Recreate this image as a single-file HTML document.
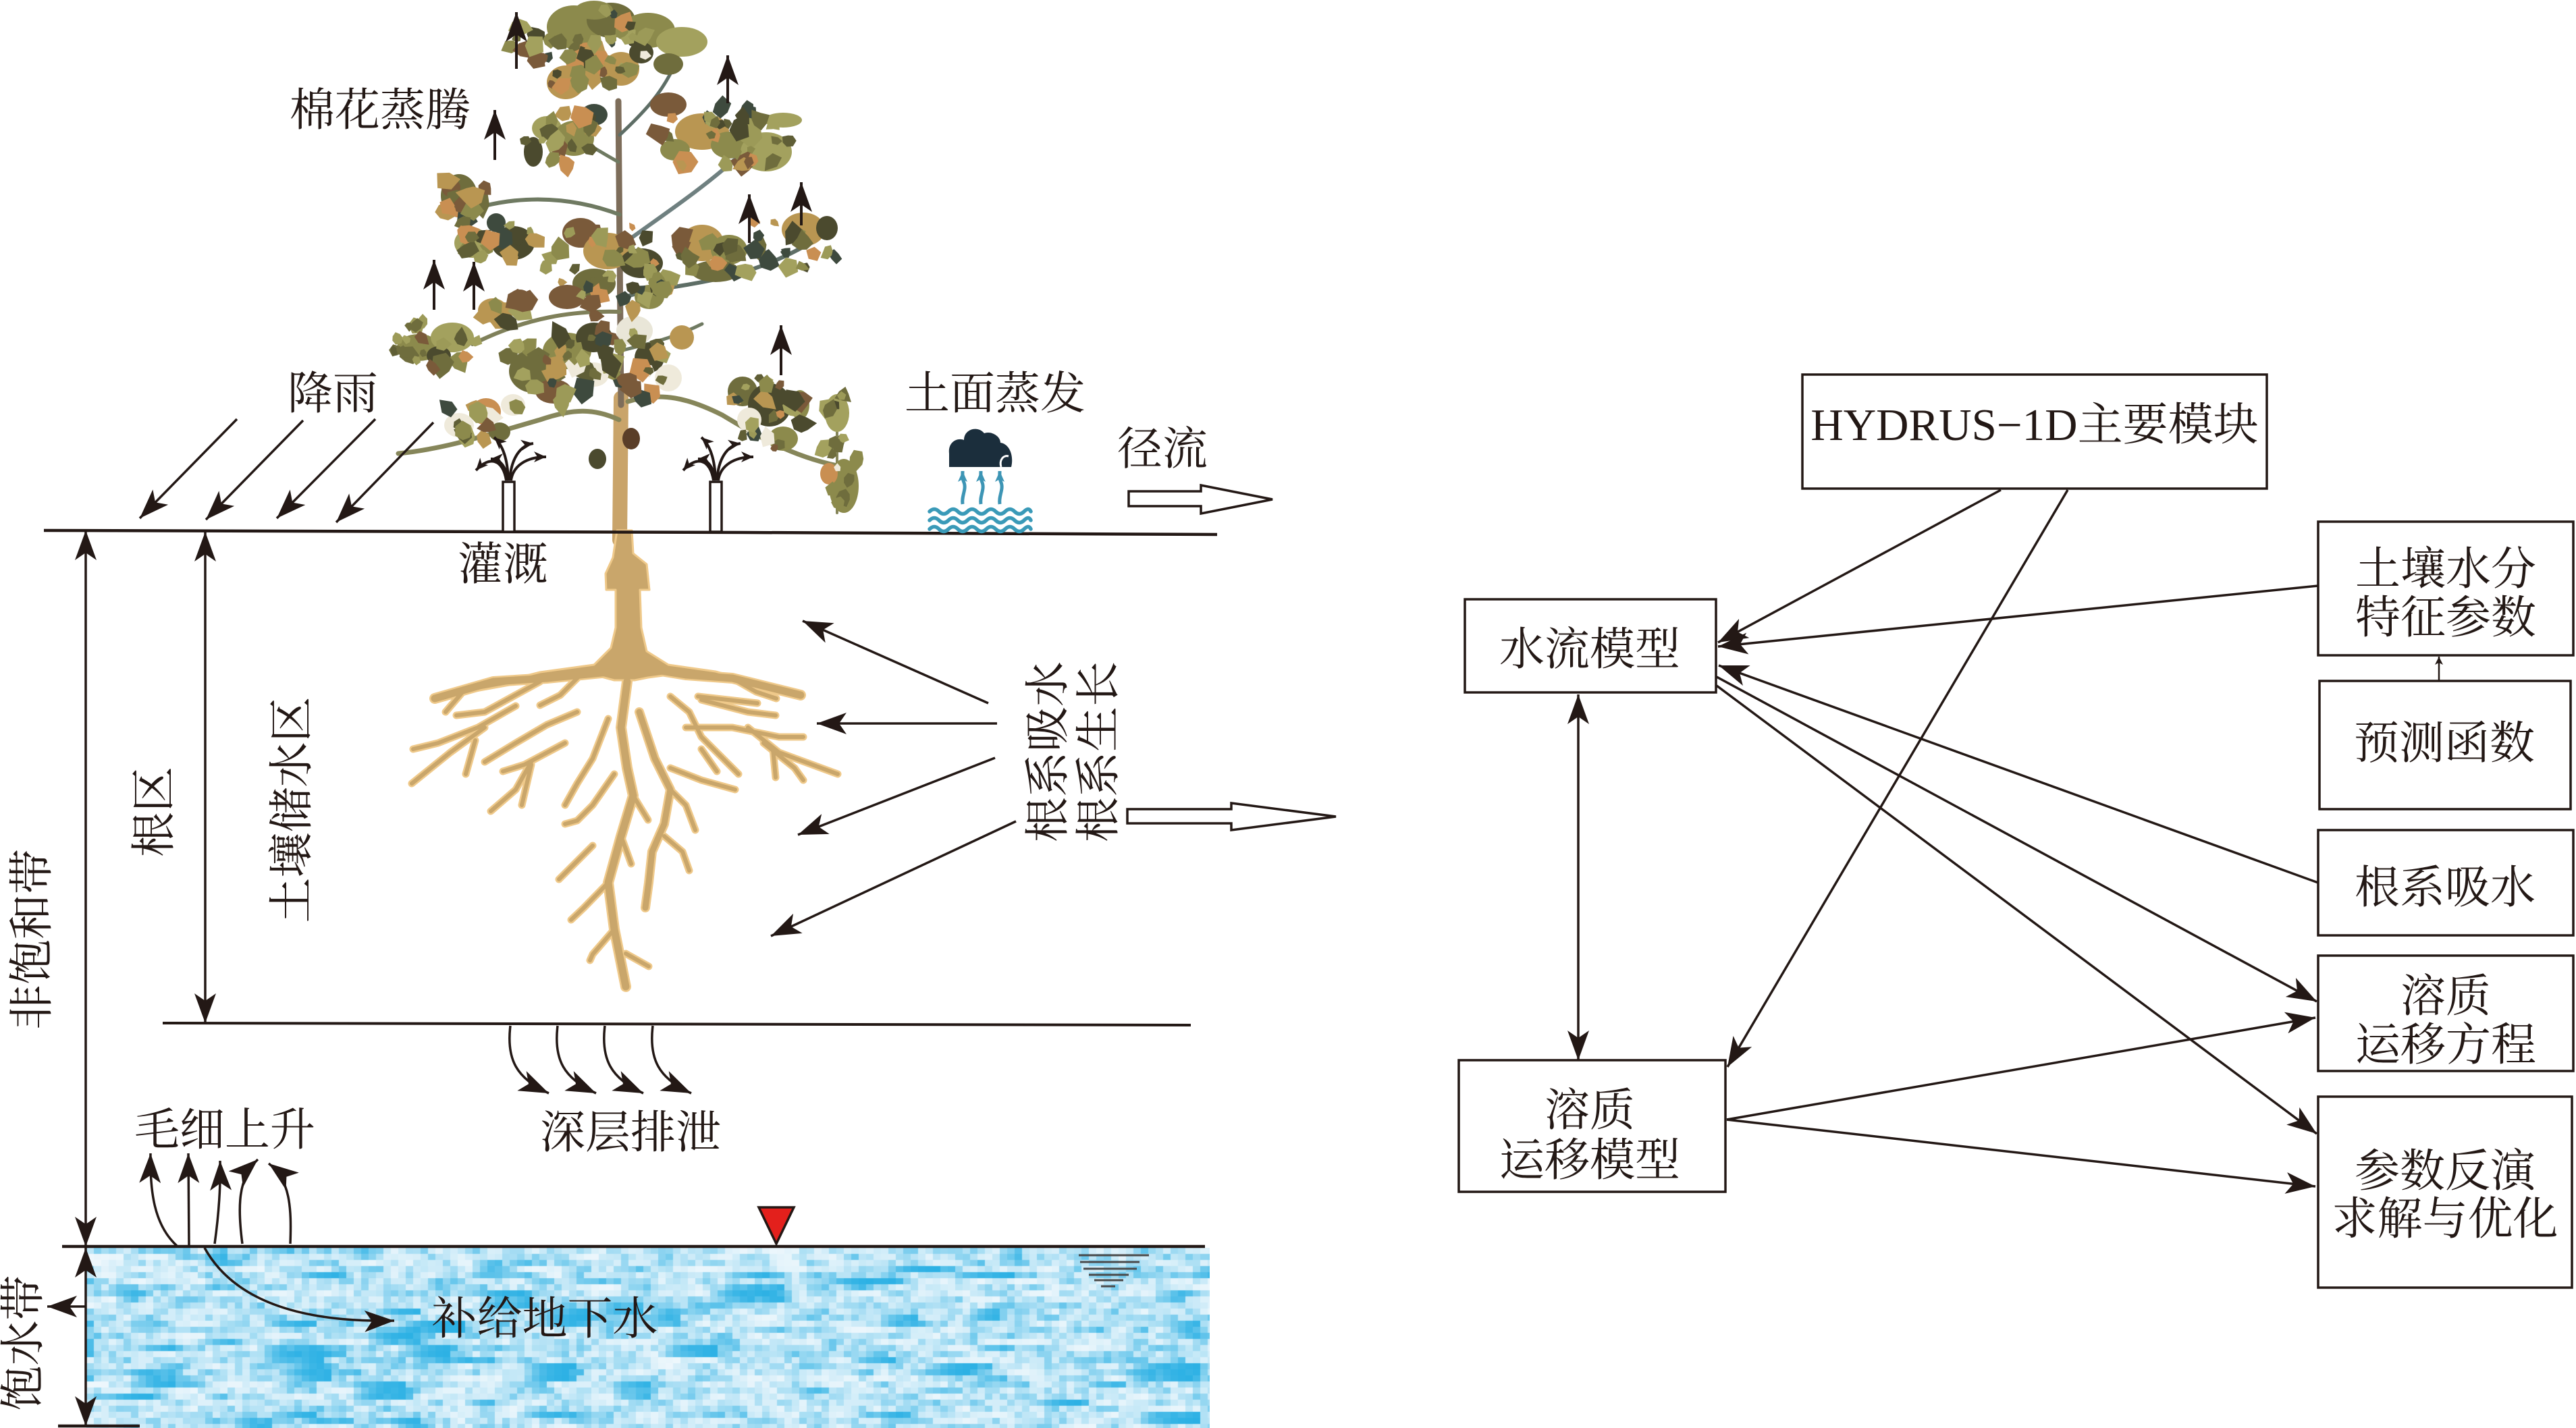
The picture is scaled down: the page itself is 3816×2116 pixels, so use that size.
<!DOCTYPE html>
<html><head><meta charset="utf-8">
<style>
html,body{margin:0;padding:0;background:#fff;}
#wrap{position:relative;width:3816px;height:2116px;overflow:hidden;background:#fff;}
#w{position:absolute;left:128px;top:1849px;background:#c6e6f6;}
svg{position:absolute;left:0;top:0;}
text{font-family:"Liberation Serif","Noto Serif CJK SC",serif;fill:#231815;font-size:67px;}
</style></head>
<body><div id="wrap">
<canvas id="w" width="1664" height="267"></canvas>
<svg width="3816" height="2116" viewBox="0 0 3816 2116" xmlns="http://www.w3.org/2000/svg">
<defs>
<marker id="a" viewBox="0 0 44 32" refX="44" refY="16" markerWidth="44" markerHeight="32" markerUnits="userSpaceOnUse" orient="auto-start-reverse"><path d="M0,0 L44,16 L0,32 L11,16 Z" fill="#231815"/></marker>
<marker id="s" viewBox="0 0 18 16" refX="18" refY="8" markerWidth="18" markerHeight="16" markerUnits="userSpaceOnUse" orient="auto"><path d="M0,0 L18,8 L0,16 L5,8 Z" fill="#231815"/></marker>
<marker id="t" viewBox="0 0 12 12" refX="12" refY="6" markerWidth="12" markerHeight="12" markerUnits="userSpaceOnUse" orient="auto"><path d="M0,0 L12,6 L0,12 L3,6 Z" fill="#231815"/></marker>
<marker id="bl" viewBox="0 0 16 14" refX="16" refY="7" markerWidth="16" markerHeight="14" markerUnits="userSpaceOnUse" orient="auto"><path d="M0,0 L16,7 L0,14 L4,7 Z" fill="#3d95b5"/></marker>
</defs>

<!-- ========== TREE ========== -->
<g id="tree">
<g fill="none" stroke-linecap="round">
<path d="M918,800 L920,590" stroke="#c9a46a" stroke-width="22"/>
<path d="M920,600 C918,450 918,300 916,150" stroke="#7d6d5a" stroke-width="9"/>
<path d="M917,622 C880,605 850,605 800,622 C720,645 660,665 590,672" stroke="#86865a" stroke-width="7"/>
<path d="M930,595 C980,580 1020,590 1070,615 C1120,645 1170,675 1240,690" stroke="#86865a" stroke-width="7"/>
<path d="M925,360 C980,320 1040,280 1090,235" stroke="#6f8080" stroke-width="6"/>
<path d="M918,318 C870,300 800,285 718,305" stroke="#6f7a62" stroke-width="6"/>
<path d="M925,440 C990,420 1090,425 1200,360" stroke="#5e6e66" stroke-width="6"/>
<path d="M918,462 C850,460 780,470 700,510" stroke="#7f805a" stroke-width="6"/>
<path d="M918,200 C950,170 980,140 1000,95" stroke="#5e6e66" stroke-width="5"/>
<path d="M916,240 C880,220 850,200 830,190" stroke="#6f7a62" stroke-width="5"/>
<path d="M918,520 C960,510 1000,500 1040,480" stroke="#6f7a62" stroke-width="5"/>
<path d="M1240,600 L1240,760" stroke="#86865a" stroke-width="4"/>
</g>
<g id="leaves">
<ellipse cx="850" cy="40" rx="40" ry="32" fill="#8c8a4c"/>
<ellipse cx="905" cy="30" rx="36" ry="26" fill="#6f6d3d"/>
<ellipse cx="960" cy="45" rx="40" ry="26" fill="#8c8a4c"/>
<ellipse cx="1010" cy="62" rx="38" ry="22" fill="#a3a15e"/>
<ellipse cx="870" cy="90" rx="32" ry="27" fill="#c98f52"/>
<ellipse cx="838" cy="122" rx="28" ry="25" fill="#b99652"/>
<ellipse cx="920" cy="102" rx="27" ry="25" fill="#b99652"/>
<ellipse cx="950" cy="78" rx="18" ry="16" fill="#4b4a2e"/>
<ellipse cx="990" cy="95" rx="22" ry="16" fill="#6f6d3d"/>
<ellipse cx="880" cy="15" rx="28" ry="14" fill="#8c8a4c"/>
<ellipse cx="810" cy="190" rx="22" ry="18" fill="#a3a15e"/>
<ellipse cx="850" cy="205" rx="30" ry="26" fill="#8c8a4c"/>
<ellipse cx="790" cy="225" rx="14" ry="22" fill="#4b4a2e"/>
<ellipse cx="880" cy="170" rx="20" ry="16" fill="#3e4a3e"/>
<ellipse cx="990" cy="155" rx="27" ry="18" fill="#7a5a3a"/>
<ellipse cx="1040" cy="195" rx="40" ry="27" fill="#b99652"/>
<ellipse cx="1080" cy="215" rx="27" ry="20" fill="#8c8a4c"/>
<ellipse cx="1135" cy="225" rx="38" ry="29" fill="#a3a15e"/>
<ellipse cx="1160" cy="178" rx="28" ry="11" fill="#a3a15e"/>
<ellipse cx="1000" cy="222" rx="22" ry="16" fill="#8c8a4c"/>
<ellipse cx="680" cy="290" rx="27" ry="32" fill="#6f6d3d"/>
<ellipse cx="668" cy="278" rx="14" ry="14" fill="#7a5a3a"/>
<ellipse cx="702" cy="305" rx="16" ry="16" fill="#4b4a2e"/>
<ellipse cx="700" cy="360" rx="27" ry="22" fill="#a3a15e"/>
<ellipse cx="760" cy="360" rx="32" ry="25" fill="#4b4a2e"/>
<ellipse cx="735" cy="330" rx="14" ry="14" fill="#3e4a3e"/>
<ellipse cx="860" cy="345" rx="27" ry="22" fill="#7a5a3a"/>
<ellipse cx="900" cy="372" rx="36" ry="27" fill="#b99652"/>
<ellipse cx="950" cy="390" rx="32" ry="22" fill="#4b4a2e"/>
<ellipse cx="880" cy="420" rx="32" ry="22" fill="#6f6d3d"/>
<ellipse cx="840" cy="440" rx="27" ry="18" fill="#7a5a3a"/>
<ellipse cx="962" cy="440" rx="22" ry="18" fill="#8c8a4c"/>
<ellipse cx="1040" cy="360" rx="32" ry="27" fill="#b99652"/>
<ellipse cx="1080" cy="370" rx="27" ry="22" fill="#8c8a4c"/>
<ellipse cx="1060" cy="402" rx="36" ry="16" fill="#6f6d3d"/>
<ellipse cx="1190" cy="340" rx="32" ry="25" fill="#b99652"/>
<ellipse cx="1225" cy="338" rx="16" ry="18" fill="#4b4a2e"/>
<ellipse cx="620" cy="515" rx="32" ry="20" fill="#8c8a4c"/>
<ellipse cx="670" cy="500" rx="32" ry="22" fill="#a3a15e"/>
<ellipse cx="650" cy="527" rx="18" ry="14" fill="#4b4a2e"/>
<ellipse cx="730" cy="460" rx="22" ry="18" fill="#b99652"/>
<ellipse cx="770" cy="445" rx="18" ry="16" fill="#7a5a3a"/>
<ellipse cx="790" cy="550" rx="36" ry="32" fill="#6f6d3d"/>
<ellipse cx="840" cy="520" rx="36" ry="27" fill="#8c8a4c"/>
<ellipse cx="880" cy="500" rx="27" ry="22" fill="#4b4a2e"/>
<ellipse cx="940" cy="490" rx="27" ry="22" fill="#e9e6d8"/>
<ellipse cx="962" cy="530" rx="22" ry="22" fill="#4b4a2e"/>
<ellipse cx="1010" cy="500" rx="18" ry="18" fill="#b99652"/>
<ellipse cx="820" cy="580" rx="27" ry="18" fill="#7a5a3a"/>
<ellipse cx="880" cy="555" rx="22" ry="18" fill="#efeadb"/>
<ellipse cx="990" cy="560" rx="20" ry="20" fill="#efeadb"/>
<ellipse cx="680" cy="630" rx="22" ry="18" fill="#efeadb"/>
<ellipse cx="720" cy="610" rx="22" ry="20" fill="#c98f52"/>
<ellipse cx="760" cy="600" rx="18" ry="16" fill="#efeadb"/>
<ellipse cx="740" cy="640" rx="16" ry="14" fill="#6f6d3d"/>
<ellipse cx="1100" cy="580" rx="22" ry="22" fill="#6f6d3d"/>
<ellipse cx="1140" cy="600" rx="32" ry="32" fill="#4b4a2e"/>
<ellipse cx="1110" cy="622" rx="18" ry="18" fill="#efeadb"/>
<ellipse cx="1160" cy="650" rx="22" ry="18" fill="#8c8a4c"/>
<ellipse cx="1185" cy="600" rx="14" ry="22" fill="#8c8a4c"/>
<ellipse cx="1240" cy="612" rx="18" ry="28" fill="#a3a15e"/>
<ellipse cx="1250" cy="720" rx="22" ry="40" fill="#8c8a4c"/>
<ellipse cx="1228" cy="702" rx="13" ry="16" fill="#c98f52"/>
<ellipse cx="935" cy="650" rx="13" ry="16" fill="#5a3e28"/>
<ellipse cx="885" cy="680" rx="13" ry="15" fill="#4b4a2e"/>
</g>
</g>

<!-- ========== ROOTS ========== -->
<g id="roots" fill="none" stroke-linecap="round" stroke-linejoin="round">
<g stroke="#efc98a">
<path d="M901,996 L810,1005 L731,1010 L644,1035" stroke-width="16"/>
<path d="M961,991 L1016,1000 L1085,1005 L1186,1030" stroke-width="16"/>
<path d="M929,1010 L920,1078 L929,1138 L938,1179 L920,1239 L901,1308 L910,1377 L927,1462" stroke-width="16"/>
<path d="M947,1055 L970,1124 L993,1170 L984,1221 L966,1262 L961,1308 L956,1345" stroke-width="14"/>
</g>
<g stroke="#efc98a" stroke-width="11">
<path d="M800,1010 L718,1055 L676,1060"/>
<path d="M764,1046 L708,1078 L649,1101 L612,1110"/>
<path d="M718,1078 L667,1115 L610,1161"/>
<path d="M704,1097 L690,1147"/>
<path d="M855,1055 L810,1074 L764,1101 L718,1129"/>
<path d="M837,1101 L777,1133 L745,1143"/>
<path d="M787,1129 L764,1170 L727,1202"/>
<path d="M787,1133 L773,1193"/>
<path d="M901,1065 L878,1124 L855,1161 L837,1193"/>
<path d="M910,1147 L878,1193 L855,1216 L837,1221"/>
<path d="M878,1253 L855,1276 L828,1303"/>
<path d="M901,1308 L865,1345 L846,1363"/>
<path d="M910,1377 L878,1414 L874,1423"/>
<path d="M927,1413 L961,1432"/>
<path d="M1039,1037 L1108,1055 L1149,1060"/>
<path d="M1016,1078 L1085,1078 L1154,1092 L1190,1092"/>
<path d="M1108,1078 L1154,1115 L1241,1147"/>
<path d="M1131,1101 L1177,1138 L1190,1156"/>
<path d="M1145,1110 L1149,1152"/>
<path d="M993,1032 L1021,1055 L1039,1092 L1094,1147"/>
<path d="M1039,1110 L1062,1143"/>
<path d="M993,1138 L1039,1156 L1089,1170"/>
<path d="M993,1170 L1016,1193 L1030,1230"/>
<path d="M984,1239 L1011,1262 L1021,1290"/>
<path d="M1034,1032 L1122,1042"/>
<path d="M731,1010 L690,1020 L660,1055"/>
<path d="M860,1000 L830,1030 L800,1045"/>
<path d="M1085,1005 L1120,1025 L1150,1035"/>
<path d="M938,1179 L960,1215"/>
<path d="M920,1239 L935,1280"/>
</g>
<path d="M914,786 L936,786 L938,820 L958,836 L962,874 L948,874 L950,930 L958,965 L990,985 L1060,995 L1186,1030 L1060,1005 L990,1000 L960,1004 L940,1008 L910,1008 L880,1000 L810,1005 L644,1035 L800,996 L880,985 L905,960 L912,930 L912,874 L898,874 L897,850 L908,826 Z" fill="#c9a66b" stroke="#efc98a" stroke-width="3"/>
<g stroke="#c9a66b">
<path d="M901,996 L810,1005 L731,1010 L644,1035" stroke-width="11"/>
<path d="M961,991 L1016,1000 L1085,1005 L1186,1030" stroke-width="11"/>
<path d="M929,1010 L920,1078 L929,1138 L938,1179 L920,1239 L901,1308 L910,1377 L927,1462" stroke-width="11"/>
<path d="M947,1055 L970,1124 L993,1170 L984,1221 L966,1262 L961,1308 L956,1345" stroke-width="9"/>
</g>
<g stroke="#c9a66b" stroke-width="6">
<path d="M800,1010 L718,1055 L676,1060"/>
<path d="M764,1046 L708,1078 L649,1101 L612,1110"/>
<path d="M718,1078 L667,1115 L610,1161"/>
<path d="M704,1097 L690,1147"/>
<path d="M855,1055 L810,1074 L764,1101 L718,1129"/>
<path d="M837,1101 L777,1133 L745,1143"/>
<path d="M787,1129 L764,1170 L727,1202"/>
<path d="M787,1133 L773,1193"/>
<path d="M901,1065 L878,1124 L855,1161 L837,1193"/>
<path d="M910,1147 L878,1193 L855,1216 L837,1221"/>
<path d="M878,1253 L855,1276 L828,1303"/>
<path d="M901,1308 L865,1345 L846,1363"/>
<path d="M910,1377 L878,1414 L874,1423"/>
<path d="M927,1413 L961,1432"/>
<path d="M1039,1037 L1108,1055 L1149,1060"/>
<path d="M1016,1078 L1085,1078 L1154,1092 L1190,1092"/>
<path d="M1108,1078 L1154,1115 L1241,1147"/>
<path d="M1131,1101 L1177,1138 L1190,1156"/>
<path d="M1145,1110 L1149,1152"/>
<path d="M993,1032 L1021,1055 L1039,1092 L1094,1147"/>
<path d="M1039,1110 L1062,1143"/>
<path d="M993,1138 L1039,1156 L1089,1170"/>
<path d="M993,1170 L1016,1193 L1030,1230"/>
<path d="M984,1239 L1011,1262 L1021,1290"/>
<path d="M1034,1032 L1122,1042"/>
<path d="M731,1010 L690,1020 L660,1055"/>
<path d="M860,1000 L830,1030 L800,1045"/>
<path d="M1085,1005 L1120,1025 L1150,1035"/>
<path d="M938,1179 L960,1215"/>
<path d="M920,1239 L935,1280"/>
</g>
</g>

<!-- ========== LEFT DIAGRAM LINES ========== -->
<g stroke="#231815" fill="none">
<polyline points="65,786 1100,789 1803,792" stroke-width="4.5"/>
<line x1="241" y1="1516" x2="1764" y2="1519" stroke-width="4"/>
<line x1="92" y1="1847" x2="1785" y2="1847" stroke-width="4.5"/>
<line x1="86" y1="2113" x2="207" y2="2113" stroke-width="4.5"/>
<line x1="127" y1="786" x2="127" y2="1847" stroke-width="3.5" marker-start="url(#a)" marker-end="url(#a)"/>
<line x1="127" y1="1849" x2="127" y2="2113" stroke-width="3.5" marker-start="url(#a)" marker-end="url(#a)"/>
<line x1="127" y1="1936" x2="70" y2="1936" stroke-width="3.5" marker-end="url(#a)"/>
<line x1="304" y1="788" x2="304" y2="1516" stroke-width="3.5" marker-start="url(#a)" marker-end="url(#a)"/>
<line x1="351" y1="621" x2="207" y2="768" stroke-width="3.5" marker-end="url(#a)"/>
<line x1="449" y1="623" x2="305" y2="770" stroke-width="3.5" marker-end="url(#a)"/>
<line x1="556" y1="621" x2="410" y2="768" stroke-width="3.5" marker-end="url(#a)"/>
<line x1="642" y1="626" x2="498" y2="774" stroke-width="3.5" marker-end="url(#a)"/>
<line x1="765" y1="102" x2="765" y2="18" stroke-width="4" marker-end="url(#a)"/>
<line x1="733" y1="237" x2="733" y2="163" stroke-width="4" marker-end="url(#a)"/>
<line x1="1078" y1="153" x2="1078" y2="82" stroke-width="4" marker-end="url(#a)"/>
<line x1="643" y1="459" x2="643" y2="385" stroke-width="4" marker-end="url(#a)"/>
<line x1="702" y1="459" x2="702" y2="388" stroke-width="4" marker-end="url(#a)"/>
<line x1="1110" y1="360" x2="1110" y2="288" stroke-width="4" marker-end="url(#a)"/>
<line x1="1187" y1="334" x2="1187" y2="270" stroke-width="4" marker-end="url(#a)"/>
<line x1="1157" y1="556" x2="1157" y2="482" stroke-width="4" marker-end="url(#a)"/>
<line x1="1464" y1="1042" x2="1189" y2="920" stroke-width="3.5" marker-end="url(#a)"/>
<line x1="1477" y1="1072" x2="1210" y2="1072" stroke-width="3.5" marker-end="url(#a)"/>
<line x1="1474" y1="1123" x2="1182" y2="1237" stroke-width="3.5" marker-end="url(#a)"/>
<line x1="1505" y1="1217" x2="1142" y2="1387" stroke-width="3.5" marker-end="url(#a)"/>
<path d="M756,1520 C750,1570 765,1598 813,1620" stroke-width="3.5" marker-end="url(#a)"/>
<path d="M826,1520 C820,1570 835,1598 883,1620" stroke-width="3.5" marker-end="url(#a)"/>
<path d="M896,1520 C890,1570 905,1598 953,1620" stroke-width="3.5" marker-end="url(#a)"/>
<path d="M967,1520 C961,1570 976,1598 1024,1620" stroke-width="3.5" marker-end="url(#a)"/>
<path d="M262,1846 C228,1815 222,1765 223,1709" stroke-width="3.5" marker-end="url(#a)"/>
<path d="M280,1846 L279,1709" stroke-width="3.5" marker-end="url(#a)"/>
<path d="M318,1843 C324,1800 327,1760 326,1720" stroke-width="3.5" marker-end="url(#a)"/>
<path d="M359,1843 C352,1790 352,1745 382,1718" stroke-width="3.5" marker-end="url(#a)"/>
<path d="M430,1843 C432,1790 430,1748 398,1724" stroke-width="3.5" marker-end="url(#a)"/>
<path d="M303,1849 C345,1925 440,1960 584,1957" stroke-width="3.5" marker-end="url(#a)"/>
</g>

<!-- sprinklers -->
<g stroke="#231815" fill="none" stroke-width="4">
<rect x="745" y="714" width="17" height="74" fill="#fff" stroke-width="3.5"/>
<path d="M750,712 C745,680 725,675 705,697" marker-end="url(#s)"/>
<path d="M752,712 C750,690 740,680 727,680" marker-end="url(#s)"/>
<path d="M753,712 C752,680 745,660 732,648" marker-end="url(#s)"/>
<path d="M755,712 C757,680 770,660 790,657" marker-end="url(#s)"/>
<path d="M757,712 C760,690 780,677 809,677" marker-end="url(#s)"/>
<rect x="1052" y="714" width="17" height="74" fill="#fff" stroke-width="3.5"/>
<path d="M1057,712 C1052,680 1032,675 1012,697" marker-end="url(#s)"/>
<path d="M1059,712 C1057,690 1047,680 1034,680" marker-end="url(#s)"/>
<path d="M1060,712 C1059,680 1052,660 1039,648" marker-end="url(#s)"/>
<path d="M1062,712 C1064,680 1077,660 1097,657" marker-end="url(#s)"/>
<path d="M1064,712 C1067,690 1087,677 1116,677" marker-end="url(#s)"/>
</g>

<!-- evaporation icon -->
<g>
<path d="M1406,692 L1406,672 C1404,655 1418,648 1428,652 C1428,636 1448,630 1458,642 C1468,638 1482,646 1482,656 C1496,658 1502,676 1498,692 Z" fill="#1b2e3c"/>
<path d="M1483,692 C1480,682 1486,674 1494,676" stroke="#fff" stroke-width="3" fill="none"/>
<g stroke="#3d95b5" stroke-width="5" fill="none">
<path d="M1426,747 C1424,735 1432,725 1428,715 C1425,708 1426,703 1426,698" marker-end="url(#bl)"/>
<path d="M1453,747 C1451,735 1459,725 1455,715 C1452,708 1453,703 1453,698" marker-end="url(#bl)"/>
<path d="M1481,747 C1479,735 1487,725 1483,715 C1480,708 1481,703 1481,698" marker-end="url(#bl)"/>
</g>
<g stroke="#3a9ab8" stroke-width="5.5" fill="none" stroke-linecap="round">
<path d="M1377,758 q7,-7 14,0 t14,0 t14,0 t14,0 t14,0 t14,0 t14,0 t14,0 t14,0 t14,0 t10,0"/>
<path d="M1377,771 q7,-7 14,0 t14,0 t14,0 t14,0 t14,0 t14,0 t14,0 t14,0 t14,0 t14,0 t10,0"/>
<path d="M1377,784 q7,-7 14,0 t14,0 t14,0 t14,0 t14,0 t14,0 t14,0 t14,0 t14,0 t14,0 t10,0"/>
</g>
</g>

<polygon points="1672,728 1779,728 1779,719 1885,740 1779,761 1779,750 1672,750" fill="#fff" stroke="#231815" stroke-width="3.5"/>
<polygon points="1670,1199 1824,1199 1824,1190 1979,1210 1824,1230 1824,1220 1670,1220" fill="#fff" stroke="#231815" stroke-width="3.5"/>

<polygon points="1124,1789 1176,1789 1150,1843" fill="#e3201c" stroke="#231815" stroke-width="3.5"/>
<g stroke="#4a4a4a" stroke-width="3">
<line x1="1598" y1="1860" x2="1702" y2="1860"/>
<line x1="1600" y1="1870" x2="1688" y2="1870"/>
<line x1="1605" y1="1880" x2="1684" y2="1880"/>
<line x1="1613" y1="1889" x2="1672" y2="1889"/>
<line x1="1621" y1="1897" x2="1664" y2="1897"/>
<line x1="1631" y1="1906" x2="1652" y2="1906"/>
</g>

<text x="563" y="186" text-anchor="middle">棉花蒸腾</text>
<text x="493" y="606" text-anchor="middle">降雨</text>
<text x="1474" y="606" text-anchor="middle">土面蒸发</text>
<text x="1722" y="688" text-anchor="middle">径流</text>
<text x="745" y="859" text-anchor="middle">灌溉</text>
<text x="333" y="1697" text-anchor="middle">毛细上升</text>
<text x="934" y="1701" text-anchor="middle">深层排泄</text>
<text x="807" y="1977" text-anchor="middle">补给地下水</text>
<text transform="translate(226,1203) rotate(-90)" text-anchor="middle" y="25">根区</text>
<text transform="translate(430,1200) rotate(-90)" text-anchor="middle" y="25">土壤储水区</text>
<text transform="translate(45,1392) rotate(-90)" text-anchor="middle" y="25">非饱和带</text>
<text transform="translate(32,1990) rotate(-90)" text-anchor="middle" y="25">饱水带</text>
<text transform="translate(1550,1114) rotate(-90)" text-anchor="middle" y="25">根系吸水</text>
<text transform="translate(1625,1114) rotate(-90)" text-anchor="middle" y="25">根系生长</text>

<!-- ========== RIGHT DIAGRAM ========== -->
<g stroke="#231815" stroke-width="3.5" fill="#fff">
<rect x="2670" y="555" width="688" height="169"/>
<rect x="2170" y="888" width="372" height="138"/>
<rect x="2161" y="1571" width="395" height="195"/>
<rect x="3434" y="773" width="378" height="198"/>
<rect x="3436" y="1009" width="372" height="190"/>
<rect x="3434" y="1230" width="378" height="156"/>
<rect x="3434" y="1416" width="378" height="171"/>
<rect x="3434" y="1625" width="376" height="283"/>
</g>
<g stroke="#231815" stroke-width="3.5" fill="none">
<line x1="2964" y1="726" x2="2545" y2="952" marker-end="url(#a)"/>
<line x1="3063" y1="726" x2="2559" y2="1581" marker-end="url(#a)"/>
<line x1="3434" y1="868" x2="2545" y2="958" marker-end="url(#a)"/>
<line x1="3434" y1="1308" x2="2546" y2="986" marker-end="url(#a)"/>
<line x1="2543" y1="1003" x2="3432" y2="1484" marker-end="url(#a)"/>
<line x1="2543" y1="1016" x2="3432" y2="1680" marker-end="url(#a)"/>
<line x1="2558" y1="1659" x2="3430" y2="1508" marker-end="url(#a)"/>
<line x1="2558" y1="1659" x2="3430" y2="1758" marker-end="url(#a)"/>
<line x1="2338" y1="1029" x2="2338" y2="1571" marker-start="url(#a)" marker-end="url(#a)"/>
<line x1="3613" y1="1008" x2="3613" y2="973" stroke-width="2.5" marker-end="url(#t)"/>
</g>
<text x="3014" y="652" text-anchor="middle" font-size="66">HYDRUS−1D主要模块</text>
<text x="2355" y="985" text-anchor="middle">水流模型</text>
<text x="2355" y="1668" text-anchor="middle">溶质</text>
<text x="2355" y="1742" text-anchor="middle">运移模型</text>
<text x="3623" y="866" text-anchor="middle">土壤水分</text>
<text x="3623" y="938" text-anchor="middle">特征参数</text>
<text x="3621" y="1124" text-anchor="middle">预测函数</text>
<text x="3622" y="1338" text-anchor="middle">根系吸水</text>
<text x="3623" y="1499" text-anchor="middle">溶质</text>
<text x="3623" y="1571" text-anchor="middle">运移方程</text>
<text x="3622" y="1758" text-anchor="middle">参数反演</text>
<text x="3622" y="1829" text-anchor="middle">求解与优化</text>
</svg>
</div>
<script>
(function(){
var c=document.getElementById('w');if(!c||!c.getContext)return;
var x=c.getContext('2d');var s=987654321;
function r(){s=(s*1103515245+12345)%2147483648;return s/2147483648;}
var cw=11,ch=9,W=c.width,H=c.height,nx=Math.ceil(W/cw),ny=Math.ceil(H/ch);
var g=[];for(var j=0;j<ny;j++){g[j]=[];for(var i=0;i<nx;i++)g[j][i]=r();}
for(var k=0;k<70;k++){var bx=Math.floor(r()*nx),by=Math.floor(r()*ny),bw=2+Math.floor(r()*7),bh=1+Math.floor(r()*3);
for(var j=by;j<by+bh&&j<ny;j++)for(var i=bx;i<bx+bw&&i<nx;i++)g[j][i]=Math.min(1,g[j][i]*0.3+0.75+r()*0.25);}
for(var j=0;j<ny;j++){var p=g[j][0];for(var i=0;i<nx;i++){p=0.5*p+0.5*g[j][i];var v=Math.pow(p,2.0);
var R=Math.round(238-(238-42)*v),G=Math.round(247-(247-176)*v),B=Math.round(252-(252-228)*v);
x.fillStyle='rgb('+R+','+G+','+B+')';x.fillRect(i*cw,j*ch,cw,ch);}}
})();
(function(){
var L=document.getElementById('leaves');if(!L)return;
var ns='http://www.w3.org/2000/svg';var s=24681357;
function r(){s=(s*1103515245+12345)%2147483648;return s/2147483648;}
var pal=['#a3a15e','#8c8a4c','#8c8a4c','#6f6d3d','#6f6d3d','#4b4a2e','#b99652','#c98f52','#7a5a3a','#3e4a3e','#9c9a58','#5f5e36'];
var cl=[[860,70,110,60,45],[830,200,55,45,16],[1075,205,100,55,32],[685,300,40,45,14],[740,355,60,30,16],[900,400,95,70,40],[1120,370,120,45,32],[650,510,70,35,20],[750,455,40,25,9],[880,545,140,60,48],[715,620,60,35,14],[1135,610,60,55,22],[1245,670,28,90,16]];
for(var k=0;k<cl.length;k++){var c=cl[k];
for(var n=0;n<c[4];n++){var a=r()*Math.PI*2,d=Math.sqrt(r());
var cx=c[0]+Math.cos(a)*c[2]*d,cy=c[1]+Math.sin(a)*c[3]*d,rad=7+r()*14;
var m=5+Math.floor(r()*3),pts=[],o=r()*6.28;
for(var q=0;q<m;q++){var t=o+q*6.283/m,rr=rad*(0.55+r()*0.6);pts.push((cx+Math.cos(t)*rr).toFixed(1)+','+(cy+Math.sin(t)*rr).toFixed(1));}
var e=document.createElementNS(ns,'polygon');e.setAttribute('points',pts.join(' '));
var col=pal[Math.floor(r()*pal.length)];if(r()<0.05)col='#efeadb';
e.setAttribute('fill',col);L.appendChild(e);}}
})();
</script>
</body></html>
